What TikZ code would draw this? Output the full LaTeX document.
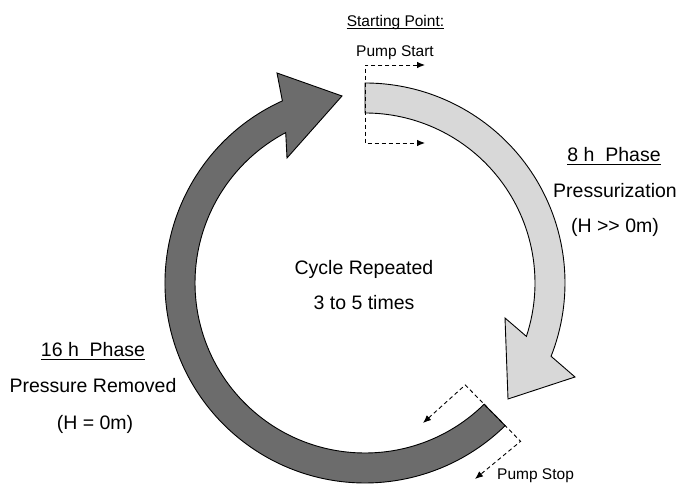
\documentclass[tikz,border=0pt]{standalone}
\usepackage{fontspec}
\setmainfont{Liberation Sans}
\usetikzlibrary{arrows.meta,calc}
\definecolor{darkfill}{RGB}{108,108,108}
\definecolor{lightfill}{RGB}{216,216,216}
\begin{document}
\begin{tikzpicture}[x=1pt,y=1pt,
  ring/.style={draw=black,line width=0.9pt,line join=miter},
  big/.style={font=\fontsize{19.5}{23}\selectfont, inner sep=0pt, anchor=base},
  small/.style={font=\fontsize{15.5}{18}\selectfont, inner sep=0pt, anchor=base},
  dsh/.style={dash pattern=on 4pt off 3pt, line width=0.9pt, {Latex[length=8pt,width=6.5pt]}-{Latex[length=8pt,width=6.5pt]}},
  uline/.style={line width=1pt}]
\fill[white] (0,0) rectangle (680,484);
\useasboundingbox (0,0) rectangle (680,484);
\coordinate (C) at (365,201);

% light arrow (pressurization)
\path[ring, fill=lightfill]
  ($(C)+(90:200pt)$) arc[start angle=90, end angle=-21.5, radius=200pt]
  -- (575,107) -- (508,85) -- (505,166)
  -- ($(C)+(-18.3:170pt)$) arc[start angle=-18.3, end angle=90, radius=170pt]
  -- cycle;

% dark arrow (pressure removed)
\path[ring, fill=darkfill]
  ($(C)+(114.4:200pt)$) arc[start angle=114.4, end angle=314.5, radius=200pt]
  -- ($(C)+(314.5:170pt)$) arc[start angle=314.5, end angle=117.8, radius=170pt]
  -- (287,326) -- (342,388) -- (277,411) -- cycle;

% dashed markers: pump start
\coordinate (ps1) at (365,419);
\coordinate (ps1e) at (425,419);
\coordinate (ps2) at (365,341);
\coordinate (ps2e) at (425,341);
\draw[dsh] (ps1e) -- (ps1) -- (ps2) -- (ps2e);

% dashed markers: pump stop
\coordinate (pq1) at ($(C)+(-45.5:143pt)$);
\coordinate (pq2) at ($(C)+(-45.5:222pt)$);
\coordinate (pq1e) at (423,61);
\coordinate (pq2e) at (475,5);
\draw[dsh] (pq1e) -- (pq1) -- (pq2) -- (pq2e);

% texts
\node[small] (sp) at (395.5,457.5) {Starting Point:};
\draw[uline] ([yshift=-2.5pt]sp.base west) -- ([yshift=-2.5pt]sp.base east);
\node[small] (pst) at (395,427) {Pump Start};

\node[big] (c1) at (364,209) {Cycle Repeated};
\node[big] (c2) at (364,174) {3 to 5 times};

\node[big] (p8) at (614,322) {8 h~~Phase};
\draw[uline] ([yshift=-3pt]p8.base west) -- ([yshift=-3pt]p8.base east);
\node[big] (pr) at (615,286) {Pressurization};
\node[big] (hp) at (615,251) {(H >{}> 0m)};

\node[big] (p16) at (93,127) {16 h~~Phase};
\draw[uline] ([yshift=-3pt]p16.base west) -- ([yshift=-3pt]p16.base east);
\node[big] (rm) at (93,91) {Pressure Removed};
\node[big] (h0) at (95,54) {(H = 0m)};

\node[small, anchor=base west] (pstop) at (497,4) {Pump Stop};
\end{tikzpicture}
\end{document}
